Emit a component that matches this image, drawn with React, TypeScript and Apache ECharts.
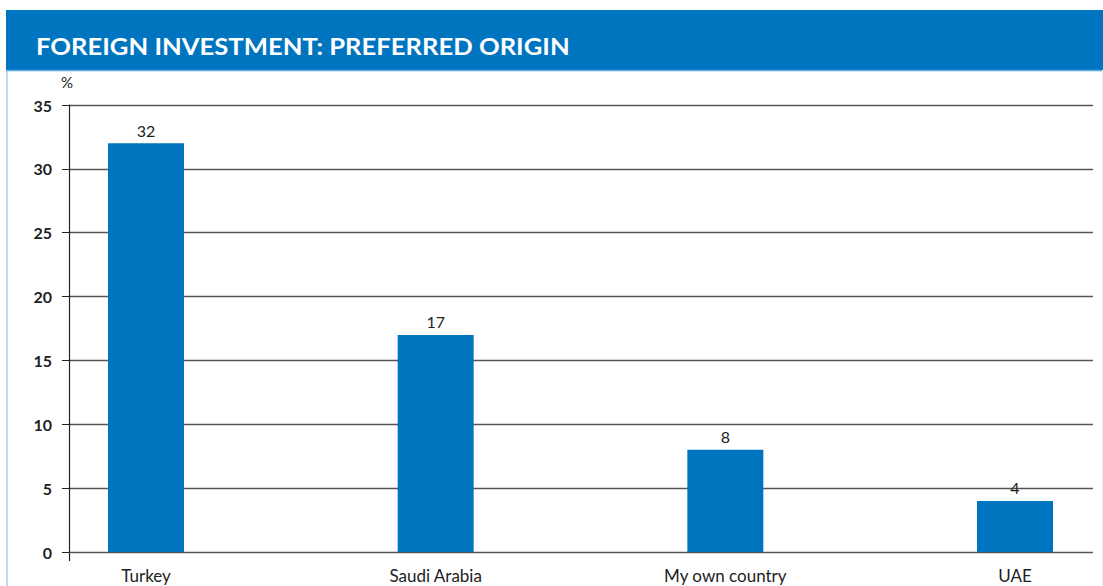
import React, { useEffect, useRef } from "react";
import * as echarts from "echarts";

const categories = ["Turkey", "Saudi Arabia", "My own country", "UAE"];
const values = [32, 17, 8, 4];
const yTicks = [0, 5, 10, 15, 20, 25, 30, 35];
const title = "FOREIGN INVESTMENT: PREFERRED ORIGIN";
const unitLabel = "%";

const BLUE = "#0075BF";
const FONT = "Lato, 'Open Sans', 'Noto Sans', sans-serif";

export default function App() {
  const ref = useRef<HTMLDivElement>(null);
  useEffect(() => {
    if (!ref.current) return;
    const chart = echarts.init(ref.current, null, { renderer: "svg" });
    const yMax = yTicks[yTicks.length - 1];
    const yInterval = yTicks[1] - yTicks[0];
    chart.setOption({
      animation: false,
      backgroundColor: "#fff",
      textStyle: { fontFamily: FONT },
      graphic: [
        { type: "rect", shape: { x: 6, y: 10, width: 1097, height: 60 }, style: { fill: BLUE } },
        { type: "line", shape: { x1: 6, y1: 70.5, x2: 1103, y2: 70.5 }, style: { stroke: "#5AA7DD", lineWidth: 1.5 } },
        { type: "line", shape: { x1: 7, y1: 70, x2: 7, y2: 586 }, style: { stroke: "#7FB9E3", lineWidth: 1 } },
        { type: "line", shape: { x1: 1102.5, y1: 70, x2: 1102.5, y2: 586 }, style: { stroke: "#E3EFF9", lineWidth: 1 } },
        {
          type: "text",
          x: 36,
          y: 46,
          scaleX: 1.165,
          style: {
            text: title,
            fill: "#fff",
            font: `bold 22px ${FONT}`,
            verticalAlign: "middle",
            textAlign: "left",
          },
        },
        {
          type: "text",
          x: 67,
          y: 82,
          style: { text: unitLabel, fill: "#222", font: `15px ${FONT}`, textAlign: "center", verticalAlign: "middle" },
        },
        { type: "line", shape: { x1: 69.5, y1: 552, x2: 69.5, y2: 561 }, style: { stroke: "#222", lineWidth: 1.2 } },
      ],
      grid: [
        { left: 69, right: 10, top: 105, bottom: 34 },
        { left: 146, right: 88, top: 105, bottom: 34 },
      ],
      xAxis: [
        {
          type: "category",
          gridIndex: 0,
          data: categories,
          axisLine: { show: false },
          axisTick: { show: false },
          axisLabel: { show: false },
        },
        {
          type: "category",
          gridIndex: 1,
          data: categories,
          boundaryGap: false,
          axisLine: { show: false },
          axisTick: { show: false },
          axisLabel: { color: "#222", fontSize: 17, margin: 14, lineHeight: 18, fontFamily: FONT },
        },
      ],
      yAxis: [
        {
          type: "value",
          gridIndex: 0,
          min: 0,
          max: yMax,
          interval: yInterval,
          axisLine: { show: true, lineStyle: { color: "#222", width: 1.2 } },
          axisTick: { show: true, inside: false, length: 7, lineStyle: { color: "#222" } },
          axisLabel: { color: "#222", fontSize: 16, fontWeight: "bold", margin: 17, fontFamily: FONT },
          splitLine: { show: true, lineStyle: { color: "#555", width: 1.3 } },
        },
        {
          type: "value",
          gridIndex: 1,
          min: 0,
          max: yMax,
          interval: yInterval,
          show: false,
          splitLine: { show: false },
        },
      ],
      series: [
        {
          type: "bar",
          xAxisIndex: 1,
          yAxisIndex: 1,
          data: values,
          barWidth: 76,
          itemStyle: { color: BLUE },
          label: { show: true, position: "top", color: "#222", fontSize: 16, distance: 5, fontFamily: FONT },
        },
      ],
    });
    return () => chart.dispose();
  }, []);
  return (
    <div
      ref={ref}
      style={{ position: "absolute", left: 0, top: 0, width: 1103, height: 586 }}
    />
  );
}
